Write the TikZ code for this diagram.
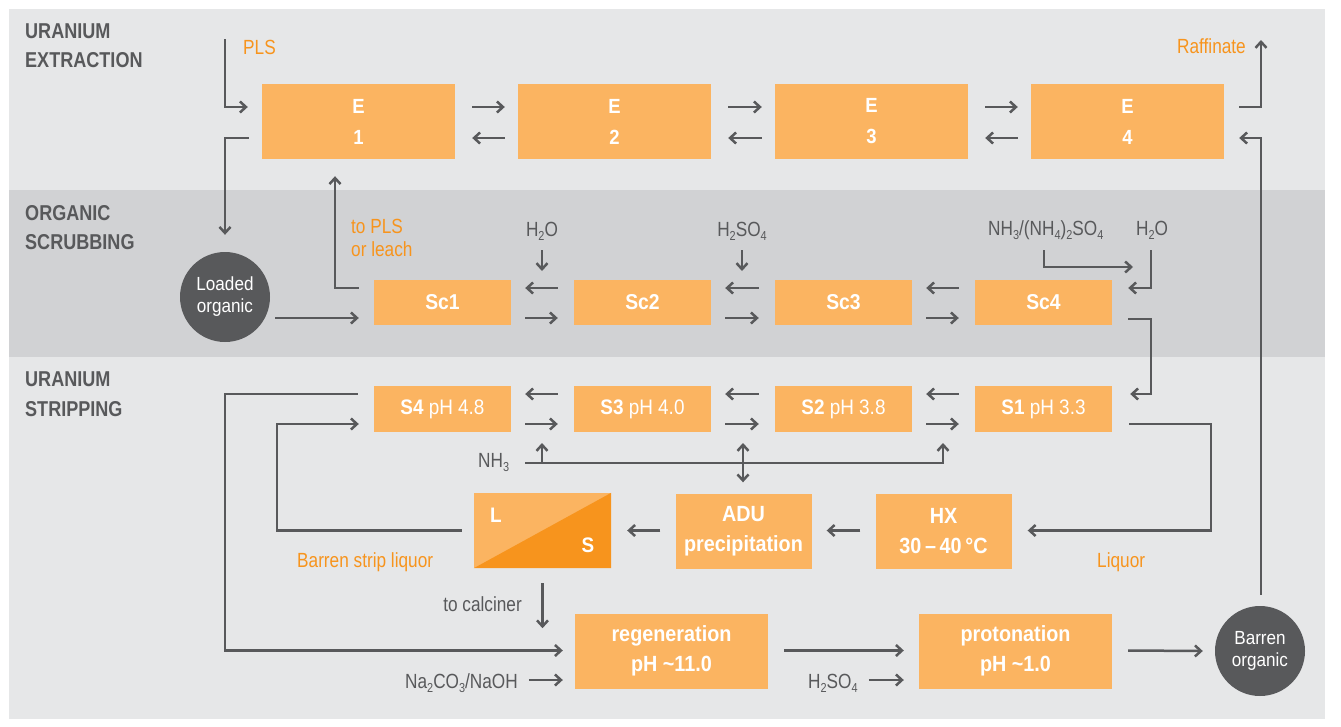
\documentclass[tikz,border=0pt]{standalone}
\usepackage{fontspec}
\setmainfont{Liberation Sans}[FakeStretch=0.84]
\newfontfamily\bxf{Liberation Sans}[FakeStretch=0.9]
\usetikzlibrary{arrows.meta,calc}
\definecolor{bgl}{HTML}{E6E7E8}
\definecolor{bgd}{HTML}{D1D2D4}
\definecolor{obox}{HTML}{FBB461}
\definecolor{otxt}{HTML}{F7941D}
\definecolor{dg}{HTML}{58595B}
\definecolor{odark}{HTML}{F7941D}
\newcommand\sbs[1]{\raisebox{-4pt}{\fontsize{13}{13}\selectfont #1}}
\begin{document}
\begin{tikzpicture}[x=1pt,y=-1pt,
  box/.style={fill=obox, text=white, font=\bxf\fontsize{22}{30}\selectfont\bfseries, align=center, inner sep=0pt},
  ebox/.style={box, font=\bxf\fontsize{20.5}{31}\selectfont\bfseries, minimum width=193pt, minimum height=75pt},
  scbox/.style={box, font=\bxf\fontsize{21.5}{30}\selectfont\bfseries, minimum width=137pt, minimum height=45pt},
  stbox/.style={box, font=\bxf\fontsize{21}{30}\selectfont, minimum width=137pt, minimum height=46pt},
  pbox/.style={box, minimum width=136pt, minimum height=75pt},
  wbox/.style={box, minimum width=193pt, minimum height=75pt},
  circ/.style={circle, fill=dg, minimum size=90pt, inner sep=0pt, text=white, align=center, font=\bxf\fontsize{19}{22}\selectfont},
  lbl/.style={text=dg, font=\fontsize{20.5}{24}\selectfont, inner sep=0pt},
  olbl/.style={text=otxt, font=\fontsize{20.5}{23}\selectfont, inner sep=0pt, align=left},
  ttl/.style={text=dg, font=\fontsize{21.5}{29.5}\selectfont\bfseries, align=left, anchor=north west, inner sep=0pt},
  ln/.style={draw=dg, line width=2.5pt},
  arr/.style={ln, -{Straight Barb[length=6pt,width=11pt]}},
  darr/.style={ln, {Straight Barb[length=6pt,width=11pt]}-{Straight Barb[length=6pt,width=11pt]}},
]
\useasboundingbox (0,0) rectangle (1341,726);
\fill[white] (0,0) rectangle (1341,726);
\fill[bgl] (9,9) rectangle (1325,719);
\fill[bgd] (9,190) rectangle (1325,357);

% titles
\node[ttl] (t1) at (25,23.5) {URANIUM\\EXTRACTION};
\node[ttl] (t2) at (25,205) {ORGANIC\\SCRUBBING};
\node[ttl] (t3) at (25,372) {URANIUM\\STRIPPING};

% extraction boxes
\node[ebox] (E1) at (358.5,121.5) {E\\1};
\node[ebox] (E2) at (614.5,121.5) {E\\2};
\node[ebox] (E3) at (871.5,121.5) {E\\3};
\node[ebox] (E4) at (1127.5,121.5) {E\\4};

% scrubbing boxes
\node[scbox] (Sc1) at (442.5,302.5) {Sc1};
\node[scbox] (Sc2) at (642.5,302.5) {Sc2};
\node[scbox] (Sc3) at (843.5,302.5) {Sc3};
\node[scbox] (Sc4) at (1043.5,302.5) {Sc4};

% stripping boxes
\node[stbox] (S4) at (442.5,409) {\textbf{S4} pH 4.8};
\node[stbox] (S3) at (642.5,409) {\textbf{S3} pH 4.0};
\node[stbox] (S2) at (843.5,409) {\textbf{S2} pH 3.8};
\node[stbox] (S1) at (1043.5,409) {\textbf{S1} pH 3.3};

% L/S separator
\node[pbox, minimum width=137pt] (LS) at (542.5,530.5) {};
\fill[odark] (LS.south west) -- (LS.north east) -- (LS.south east) -- cycle;
\node[text=white, font=\bxf\fontsize{21}{24}\selectfont\bfseries, inner sep=0pt] (Ltxt) at (496,515) {L};
\node[text=white, font=\bxf\fontsize{21}{24}\selectfont\bfseries, inner sep=0pt] (Stxt) at (588,545) {S};

\node[pbox] (ADU) at (743.5,531) {ADU\\precipitation};
\node[pbox] (HX) at (943.5,531) {HX\\30\,–\,40\,°C};
\node[wbox] (RG) at (671.5,651) {regeneration\\pH \textasciitilde11.0};
\node[wbox] (PR) at (1015.5,651) {protonation\\pH \textasciitilde1.0};

% circles
\node[circ] (LO) at (225,297) {Loaded\\organic};
\node[circ] (BO) at (1260,651) {Barren\\organic};

% labels
\node[olbl, anchor=base west] (pls) at (243,54) {PLS};
\node[olbl, anchor=base east] (raf) at (1246,53) {Raffinate};
\node[olbl, anchor=north west] (toPLS) at (351,219) {to PLS\\or leach};
\node[lbl, anchor=base] (h2oA) at (542,236) {H\sbs{2}O};
\node[lbl, anchor=base] (h2so4A) at (742,236) {H\sbs{2}SO\sbs{4}};
\node[lbl, anchor=base west] (nh3s) at (988,235) {NH\sbs{3}/(NH\sbs{4})\sbs{2}SO\sbs{4}};
\node[lbl, anchor=base west] (h2oB) at (1136,235) {H\sbs{2}O};
\node[lbl, anchor=base west] (nh3) at (478,467) {NH\sbs{3}};
\node[olbl, anchor=base west] (bsl) at (297,567) {Barren strip liquor};
\node[olbl, anchor=base west] (liq) at (1097,567) {Liquor};
\node[lbl, anchor=base east] (calc) at (522,611) {to calciner};
\node[lbl, anchor=base west] (naoh) at (405,688) {Na\sbs{2}CO\sbs{3}/NaOH};
\node[lbl, anchor=base west] (h2so4B) at (808,688) {H\sbs{2}SO\sbs{4}};

% coordinates
\coordinate (plsTop) at (225,39);
\coordinate (rafTop) at (1261,40);

% extraction arrows
\foreach \a/\b in {E1/E2,E2/E3,E3/E4}{
  \draw[arr] ($(\a.east)+(17,-14.5)$) -- ($(\b.west)+(-13,-14.5)$);
  \draw[arr] ($(\b.west)+(-13,16.5)$) -- ($(\a.east)+(17,16.5)$);
}
\draw[arr] (plsTop) |- ($(E1.west)+(-14,-14.5)$);
\draw[arr] ($(E1.west)+(-13,16.5)$) -| ([yshift=17pt]LO.north);
\draw[arr] ($(E4.east)+(15,-14.5)$) -| (rafTop);
\draw[arr] ($(BO.north)+(1,-11)$) |- ($(E4.east)+(15,16.5)$);

% scrubbing arrows
\foreach \a/\b in {Sc1/Sc2,Sc2/Sc3,Sc3/Sc4}{
  \draw[arr] ($(\b.west)+(-16,-14.5)$) -- ($(\a.east)+(14,-14.5)$);
  \draw[arr] ($(\a.east)+(14,15.5)$) -- ($(\b.west)+(-16,15.5)$);
}
\draw[arr] ($(LO.east)+(5,21)$) -- ($(Sc1.west)+(-15,15.5)$);
\draw[arr] ($(Sc1.west)+(-15,-14.5)$) -| ($(E1.south)+(-23.5,17)$);
\draw[arr] (542,250) -- (542,271);
\draw[arr] (742,250) -- (742,271);
\draw[arr] (1044,250) |- (1133,267);
\draw[arr] (1151,250) |- ($(Sc4.east)+(16,-14.5)$);
\draw[arr] ($(Sc4.east)+(16,16.5)$) -| ($(S1.east)+(39,-15)$) -- ($(S1.east)+(18,-15)$);

% stripping arrows
\foreach \a/\b in {S4/S3,S3/S2,S2/S1}{
  \draw[arr] ($(\b.west)+(-16,-15)$) -- ($(\a.east)+(14,-15)$);
  \draw[arr] ($(\a.east)+(14,15)$) -- ($(\b.west)+(-16,15)$);
}
\draw[arr] ($(S4.west)+(-16,-15)$) -| (225,650.5) -- ($(RG.west)+(-12,-0.5)$);
\draw[arr] ($(LS.west)+(-12,0)$) -| (277,424) -- ($(S4.west)+(-15,15)$);
\draw[arr] (525,463) -- (943,463) -- (943,443);
\draw[arr] (542,463) -- (542,443);
\draw[darr] (743,443) -- ($(ADU.north)+(-0.5,-11)$);
\draw[arr] ($(HX.west)+(-15,-0.5)$) -- ($(ADU.east)+(15,-0.5)$);
\draw[arr] ($(ADU.west)+(-15,-0.5)$) -- ($(LS.east)+(16,0)$);
\draw[arr] ($(S1.east)+(17,15)$) -| (1211,530.5) -- ($(HX.east)+(16,-0.5)$);
\draw[arr] ($(LS.south)+(0,15)$) -- ($(LS.south)+(0,60)$);
\draw[arr] ($(RG.west)+(-46,29)$) -- ($(RG.west)+(-12,29)$);
\draw[arr] ($(RG.east)+(16,-0.5)$) -- ($(PR.west)+(-15,-0.5)$);
\draw[arr] ($(PR.west)+(-50,29)$) -- ($(PR.west)+(-15,29)$);
\draw[arr] ($(PR.east)+(16,-0.5)$) -- ($(BO.west)+(-12,0)$);
\end{tikzpicture}
\end{document}
